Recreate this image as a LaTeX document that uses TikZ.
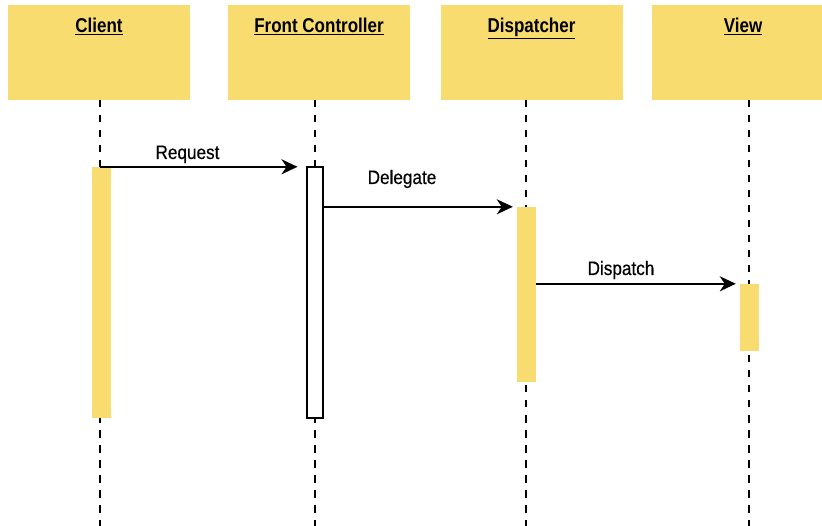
\documentclass[tikz,border=0pt]{standalone}
\usepackage{fontspec}
\setmainfont{Liberation Sans}
\newfontfamily\headfont[FakeStretch=0.85]{Liberation Sans}
\newfontfamily\msgfont[FakeStretch=0.88, FakeBold=0.4]{Liberation Sans}
\usepackage{xcolor}
\usepackage{tikz}
\usetikzlibrary{arrows.meta,calc}
\definecolor{lifeyellow}{RGB}{248,220,112}

\begin{document}
\begin{tikzpicture}[
        x=1pt, y=-1pt,
        head/.style={rectangle, fill=lifeyellow, minimum width=182pt, minimum height=95pt, inner sep=0pt},
        title/.style={anchor=base, inner sep=0pt, font=\headfont\bfseries\fontsize{20}{24}\selectfont},
        act/.style={rectangle, fill=lifeyellow, minimum width=19pt, inner sep=0pt},
        lifeline/.style={line width=2pt, dash pattern=on 7.5pt off 7.5pt},
        msg/.style={-{Stealth[length=16pt, width=15pt, inset=5pt]}, line width=2pt, shorten >=4pt},
        msglabel/.style={anchor=base, inner sep=0pt, font=\msgfont\fontsize{19.5}{23}\selectfont},
    ]
    \useasboundingbox (0,0) rectangle (822,526);
    \clip (0,0) rectangle (822,526);

        \node[head] (client) at (99,52.5) {};
        \node[head] (front) at (319,52.5) {};
        \node[head] (disp) at (531.5,52.5) {};
        \node[head] (view) at (743,52.5) {};

        \node[title] (clienttitle) at ($(client.north)+(0,28)$) {\underline{Client}};
        \node[title] (fronttitle) at ($(front.north)+(0,28)$) {\underline{Front Controller}};
        \node[title] (disptitle) at ($(disp.north)+(0,28)$) {\underline{Dispatcher}};
        \node[title] (viewtitle) at ($(view.north)+(0,28)$) {\underline{View}};

        \coordinate (bottom) at (0,526);
        \coordinate (clientline) at (100,100);
        \coordinate (frontline) at (315,100);
        \coordinate (displine) at (526,100);
        \coordinate (viewline) at (749,100);

        \draw[lifeline] (clientline) -- (clientline |- bottom);
        \draw[lifeline] (frontline) -- (frontline |- bottom);
        \draw[lifeline] (displine) -- (displine |- bottom);
        \draw[lifeline] (viewline) -- (viewline |- bottom);

        \node[act, minimum height=251pt] (clientact) at (101,292.5) {};
        \node[act, fill=white, draw, line width=2pt, minimum width=16pt, minimum height=251pt] (frontact) at (314.5,292.5) {};
        \node[act, minimum height=175pt] (dispact) at (526.5,294.5) {};
        \node[act, minimum height=67pt] (viewact) at (749.5,317.5) {};

        \draw[msg, shorten >=8pt] (clientline |- clientact.north) -- (clientact.north -| frontact.west);
        \draw[msg] (frontact.east |- dispact.north) -- (dispact.north west);
        \draw[msg] (dispact.east |- viewact.north) -- (viewact.north west);

        \node[msglabel] (reqlabel) at (187.5,159) {Request};
        \node[msglabel] (dellabel) at (402,184) {Delegate};
        \node[msglabel] (displabel) at (621,275) {Dispatch};

    \end{tikzpicture}
\end{document}
